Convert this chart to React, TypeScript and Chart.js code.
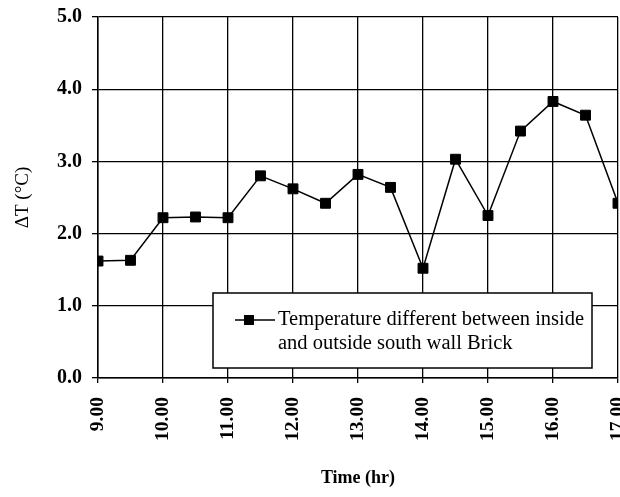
import React, { useEffect, useRef } from "react";
import { Chart, registerables } from "chart.js";

Chart.register(...registerables);

const times = [9, 9.5, 10, 10.5, 11, 11.5, 12, 12.5, 13, 13.5, 14, 14.5, 15, 15.5, 16, 16.5, 17];
const deltaT = [1.62, 1.63, 2.22, 2.23, 2.22, 2.8, 2.62, 2.42, 2.82, 2.64, 1.52, 3.03, 2.25, 3.42, 3.83, 3.64, 2.42];
const seriesLabel = ["Temperature different between inside", "and outside south wall Brick"];
const yTitle = "\u0394T (\u00B0C)";
const xTitle = "Time (hr)";
const xRange = [9, 17];
const yRange = [0, 5];

const SERIF = '"Liberation Serif", "Times New Roman", serif';

const legendPlugin = {
  id: "boxLegend",
  afterDraw(chart: any) {
    const { ctx, chartArea } = chart;
    const x = chartArea.left + 115;
    const y = chartArea.top + 276;
    const w = 379;
    const h = 75;
    ctx.save();
    ctx.fillStyle = "#fff";
    ctx.fillRect(x, y, w, h);
    ctx.strokeStyle = "#000";
    ctx.lineWidth = 1.5;
    ctx.strokeRect(x, y, w, h);
    const sy = y + 27;
    ctx.beginPath();
    ctx.moveTo(x + 22, sy);
    ctx.lineTo(x + 62, sy);
    ctx.stroke();
    ctx.fillStyle = "#000";
    ctx.fillRect(x + 36 - 5, sy - 5, 10, 10);
    ctx.font = `20.5px ${SERIF}`;
    ctx.textBaseline = "middle";
    ctx.textAlign = "left";
    seriesLabel.forEach((t, i) => ctx.fillText(t, x + 65, sy + i * 24));
    ctx.restore();
  },
};

export default function App() {
  const ref = useRef<HTMLCanvasElement | null>(null);

  useEffect(() => {
    if (!ref.current) return;
    const chart = new Chart(ref.current, {
      type: "line",
      data: {
        datasets: [
          {
            label: seriesLabel.join(" "),
            data: times.map((t, i) => ({ x: t, y: deltaT[i] })),
            borderColor: "#000",
            borderWidth: 1.5,
            backgroundColor: "#000",
            pointStyle: "rect",
            pointRadius: 7,
            pointBorderWidth: 1,
            pointBackgroundColor: "#000",
            pointBorderColor: "#000",
            tension: 0,
          },
        ],
      },
      options: {
        responsive: false,
        animation: false,
        layout: { padding: { top: 17, right: 0, left: 0, bottom: 0 } },
        plugins: {
          legend: { display: false },
          tooltip: { enabled: false },
        },
        scales: {
          x: {
            type: "linear",
            min: xRange[0],
            max: xRange[1],
            afterFit(scale: any) {
              scale.height = 119;
              scale.paddingLeft = 0;
              scale.paddingRight = 0;
            },
            ticks: {
              stepSize: 1,
              autoSkip: false,
              minRotation: 90,
              maxRotation: 90,
              padding: 14,
              color: "#000",
              font: { family: SERIF, size: 19.5, weight: "bold" },
              callback: (v: any) => Number(v).toFixed(2),
            },
            grid: { color: "#000", lineWidth: 1.3, tickLength: 5 },
            border: { color: "#000", width: 1.5 },
            title: {
              display: true,
              text: xTitle,
              color: "#000",
              font: { family: SERIF, size: 18, weight: "bold" },
              padding: { top: 0, bottom: 8 },
            },
          },
          y: {
            type: "linear",
            min: yRange[0],
            max: yRange[1],
            afterFit(scale: any) {
              scale.width = 98;
              scale.paddingTop = 0;
              scale.paddingBottom = 0;
            },
            ticks: {
              stepSize: 1,
              padding: 10,
              color: "#000",
              font: { family: SERIF, size: 20, weight: "bold" },
              callback: (v: any) => Number(v).toFixed(1),
            },
            grid: { color: "#000", lineWidth: 1.3, tickLength: 6 },
            border: { color: "#000", width: 1.5 },
            title: {
              display: true,
              text: yTitle,
              color: "#000",
              font: { family: SERIF, size: 19 },
              padding: { top: 12, bottom: 0 },
            },
          },
        },
      },
      plugins: [legendPlugin],
    });
    return () => chart.destroy();
  }, []);

  return (
    <div style={{ position: "fixed", left: 0, top: 0, width: 620, height: 497, background: "#fff", overflow: "hidden" }}>
      <canvas ref={ref} width={626} height={497} />
    </div>
  );
}
